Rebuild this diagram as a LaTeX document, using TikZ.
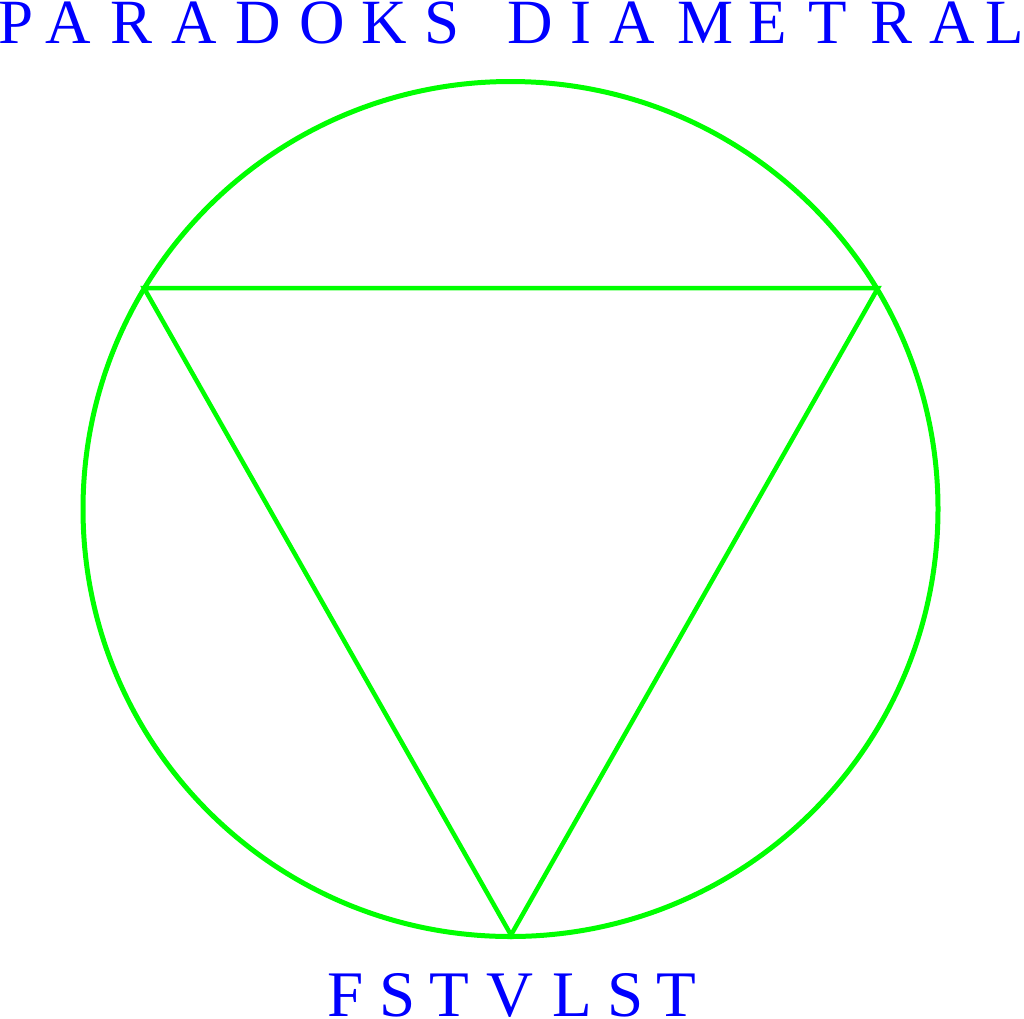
\documentclass[tikz,border=0pt]{standalone}
\usepackage{fontspec}
\setmainfont{Liberation Serif}
\definecolor{tblue}{RGB}{0,0,255}
\definecolor{tgreen}{RGB}{0,255,0}
\begin{document}
\begin{tikzpicture}[x=1pt,y=-1pt,
  ltr/.style={anchor=base,inner sep=0pt,text=tblue,font=\fontsize{63}{63}\selectfont},
  ltrb/.style={anchor=base,inner sep=0pt,text=tblue,font=\fontsize{65}{65}\selectfont},
  ring/.style={draw=tgreen,line width=5pt},
  edge/.style={draw=tgreen,line width=4.5pt,line join=miter}]
\useasboundingbox (0,0) rectangle (1024,1018);
% circle
\coordinate (c) at (510.5,509);
\draw[ring] (c) circle[radius=427.5];
% triangle
\coordinate (v1) at (144,288);
\coordinate (v2) at (878,288);
\coordinate (v3) at (511,935);
\draw[edge] (v1) -- (v2) -- (v3) -- cycle;
% top title
\foreach \x/\l [count=\i] in {16.5/P,68.5/A,132/R,194.5/A,258.5/D,322/O,384.5/K,442.5/S,530.5/D,580.5/I,632/A,705.5/M,767.5/E,827.5/T,891/R,952.5/A,1004.5/L}
  \node[ltr] (t\i) at (\x,43) {\l};
% bottom title
\foreach \x/\l [count=\i] in {345.5/F,397.5/S,449.5/T,510/V,572.5/L,626/S,676.5/T}
  \node[ltrb] (b\i) at (\x,1016) {\l};
\end{tikzpicture}
\end{document}
